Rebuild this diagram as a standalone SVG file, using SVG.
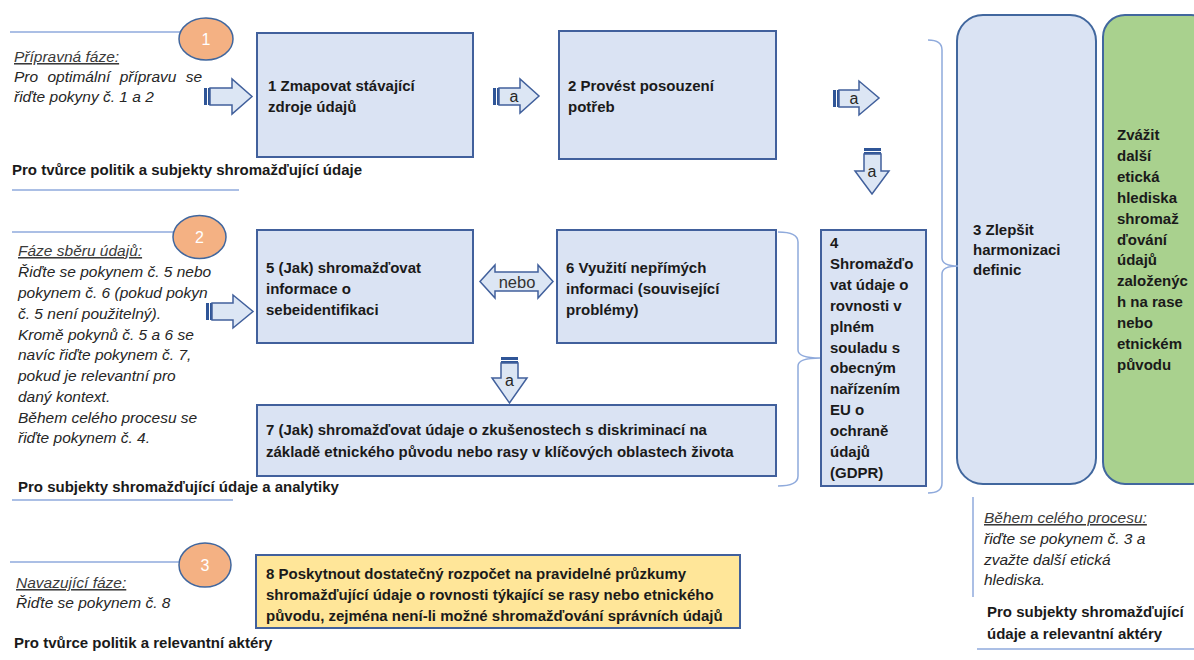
<svg xmlns="http://www.w3.org/2000/svg" width="1194" height="660" viewBox="0 0 1194 660">
<style>
  .box{fill:#dae3f3;stroke:#41609c;stroke-width:2}
  .rbox{fill:#dae3f3;stroke:#41679e;stroke-width:2}
  .gbox{fill:#a9d18e;stroke:#41679e;stroke-width:2}
  .ybox{fill:#ffe699;stroke:#41609c;stroke-width:2}
  .circ{fill:#f4b183;stroke:#41679e;stroke-width:1.5}
  .cnum{font-family:"Liberation Sans",Arial,sans-serif;font-size:16px;fill:#ffffff;text-anchor:middle}
  .b{font-family:"Liberation Sans",Arial,sans-serif;font-size:15px;font-weight:bold;fill:#1a1a1a}
  .it{font-family:"Liberation Sans",Arial,sans-serif;font-size:15.5px;font-style:italic;fill:#262626}
  .ith{font-family:"Liberation Sans",Arial,sans-serif;font-size:15.5px;font-style:italic;fill:#3a3a3a;text-decoration:underline}
  .lbl{font-family:"Liberation Sans",Arial,sans-serif;font-size:16px;fill:#262626;text-anchor:middle}
  .lbl2{font-family:"Liberation Sans",Arial,sans-serif;font-size:16.5px;fill:#333333;text-anchor:middle}
  .sep{stroke:#8faadc;stroke-width:1.5;fill:none}
  .arr{fill:#dce6f4;stroke:#41609c;stroke-width:1.5;stroke-linejoin:miter}
  .strp{fill:#2f5597}
  .brace{fill:none;stroke:#8faadc;stroke-width:1.5}
</style>

<!-- separator lines -->
<g id="separators">
  <line class="sep" x1="10" y1="32" x2="180" y2="32"/>
  <line class="sep" x1="12" y1="190" x2="239" y2="190"/>
  <line class="sep" x1="12" y1="232" x2="174" y2="232"/>
  <line class="sep" x1="12" y1="500" x2="233" y2="500"/>
  <line class="sep" x1="10" y1="562" x2="180" y2="562"/>
  <line class="sep" x1="977" y1="649" x2="1194" y2="649"/>
  <line class="sep" x1="973" y1="497" x2="973" y2="597"/>
</g>

<!-- phase 1 -->
<g id="circle1">
  <ellipse class="circ" cx="206" cy="39" rx="27" ry="21"/>
  <text class="cnum" x="206" y="45">1</text>
</g>
<g id="phase1-text">
  <text class="ith" x="14" y="62">Přípravná fáze:</text>
  <text class="it" x="14" y="82" word-spacing="5">Pro optimální přípravu se</text>
  <text class="it" x="14" y="102">řiďte pokyny č. 1 a 2</text>
  <text class="b" x="12" y="175">Pro tvůrce politik a subjekty shromažďující údaje</text>
</g>
<g id="node1">
  <rect class="box" x="257" y="33" width="216" height="124"/>
  <text class="b" x="268" y="91">1 Zmapovat stávající</text>
  <text class="b" x="268" y="112">zdroje údajů</text>
</g>
<g id="node2">
  <rect class="box" x="559" y="31" width="217" height="128"/>
  <text class="b" x="568" y="91">2 Provést posouzení</text>
  <text class="b" x="568" y="112">potřeb</text>
</g>

<!-- phase 2 -->
<g id="circle2">
  <ellipse class="circ" cx="199.5" cy="237" rx="26.5" ry="21.5"/>
  <text class="cnum" x="199.5" y="243">2</text>
</g>
<g id="phase2-text">
  <text class="ith" x="18" y="256">Fáze sběru údajů:</text>
  <text class="it" x="18" y="277">Řiďte se pokynem č. 5 nebo</text>
  <text class="it" x="18" y="298">pokynem č. 6 (pokud pokyn</text>
  <text class="it" x="18" y="318.5">č. 5 není použitelný).</text>
  <text class="it" x="18" y="339.5">Kromě pokynů č. 5 a 6 se</text>
  <text class="it" x="18" y="360">navíc řiďte pokynem č. 7,</text>
  <text class="it" x="18" y="381">pokud je relevantní pro</text>
  <text class="it" x="18" y="401.5">daný kontext.</text>
  <text class="it" x="18" y="422.5">Během celého procesu se</text>
  <text class="it" x="18" y="443">řiďte pokynem č. 4.</text>
  <text class="b" x="18" y="492">Pro subjekty shromažďující údaje a analytiky</text>
</g>
<g id="node5">
  <rect class="box" x="257" y="230" width="216" height="113"/>
  <text class="b" x="266" y="273">5 (Jak) shromažďovat</text>
  <text class="b" x="266" y="294">informace o</text>
  <text class="b" x="266" y="315">sebeidentifikaci</text>
</g>
<g id="node6">
  <rect class="box" x="557" y="230" width="219" height="113"/>
  <text class="b" x="566" y="273">6 Využití nepřímých</text>
  <text class="b" x="566" y="294">informaci (související</text>
  <text class="b" x="566" y="315">problémy)</text>
</g>
<g id="node7">
  <rect class="box" x="257" y="405" width="519" height="71"/>
  <text class="b" x="266" y="435">7 (Jak) shromažďovat údaje o zkušenostech s diskriminací na</text>
  <text class="b" x="266" y="457">základě etnického původu nebo rasy v klíčových oblastech života</text>
</g>
<g id="node4">
  <rect class="box" x="821" y="230" width="105" height="256"/>
  <text class="b" x="830" y="248">4</text>
  <text class="b" x="830" y="268.9">Shromažďo</text>
  <text class="b" x="830" y="289.8">vat údaje o</text>
  <text class="b" x="830" y="310.7">rovnosti v</text>
  <text class="b" x="830" y="331.6">plném</text>
  <text class="b" x="830" y="352.5">souladu s</text>
  <text class="b" x="830" y="373.4">obecným</text>
  <text class="b" x="830" y="394.3">nařízením</text>
  <text class="b" x="830" y="415.2">EU o</text>
  <text class="b" x="830" y="436.1">ochraně</text>
  <text class="b" x="830" y="457">údajů</text>
  <text class="b" x="830" y="477.9">(GDPR)</text>
</g>
<g id="node3">
  <rect class="rbox" x="957" y="15" width="139" height="469" rx="26" ry="26"/>
  <text class="b" x="973" y="235">3 Zlepšit</text>
  <text class="b" x="973" y="255">harmonizaci</text>
  <text class="b" x="973" y="275">definic</text>
</g>
<g id="node-ethics">
  <rect class="gbox" x="1103" y="15" width="110" height="469" rx="22" ry="22"/>
  <text class="b" x="1117" y="140">Zvážit</text>
  <text class="b" x="1117" y="160.9">další</text>
  <text class="b" x="1117" y="181.8">etická</text>
  <text class="b" x="1117" y="202.7">hlediska</text>
  <text class="b" x="1117" y="223.6">shromaž</text>
  <text class="b" x="1117" y="244.5">ďování</text>
  <text class="b" x="1117" y="265.4">údajů</text>
  <text class="b" x="1117" y="286.3">založenýc</text>
  <text class="b" x="1117" y="307.2">h na rase</text>
  <text class="b" x="1117" y="328.1">nebo</text>
  <text class="b" x="1117" y="349">etnickém</text>
  <text class="b" x="1117" y="369.9">původu</text>
</g>
<g id="process-text">
  <text class="ith" x="984" y="523">Během celého procesu:</text>
  <text class="it" x="984" y="544">řiďte se pokynem č. 3 a</text>
  <text class="it" x="984" y="564.5">zvažte další etická</text>
  <text class="it" x="984" y="585">hlediska.</text>
  <text class="b" x="987" y="617">Pro subjekty shromažďující</text>
  <text class="b" x="987" y="639">údaje a relevantní aktéry</text>
</g>

<!-- phase 3 -->
<g id="circle3">
  <ellipse class="circ" cx="205" cy="565" rx="26" ry="22"/>
  <text class="cnum" x="205" y="571">3</text>
</g>
<g id="phase3-text">
  <text class="ith" x="16" y="588">Navazující fáze:</text>
  <text class="it" x="16" y="608">Řiďte se pokynem č. 8</text>
  <text class="b" x="14" y="648">Pro tvůrce politik a relevantní aktéry</text>
</g>
<g id="node8">
  <rect class="ybox" x="256" y="555" width="484" height="73"/>
  <text class="b" x="266" y="579">8 Poskytnout dostatečný rozpočet na pravidelné průzkumy</text>
  <text class="b" x="266" y="600">shromažďující údaje o rovnosti týkající se rasy nebo etnického</text>
  <text class="b" x="266" y="621">původu, zejména není-li možné shromažďování správních údajů</text>
</g>

<!-- connectors -->
<g id="connectors">
  <!-- arrow into node 1 -->
  <rect class="strp" x="204" y="88" width="3" height="17"/>
  <rect class="strp" x="208" y="88" width="2" height="17"/>
  <polygon class="arr" points="210,88 232,88 232,79 252,96.5 232,114 232,105 210,105"/>
  <!-- a: 1 -> 2 -->
  <rect class="strp" x="493" y="88" width="3" height="17"/>
  <rect class="strp" x="497" y="88" width="2" height="17"/>
  <polygon class="arr" points="499,88 520,88 520,79 539,96 520,113 520,105 499,105"/>
  <text class="lbl" x="514" y="102">a</text>
  <!-- a: 2 -> right -->
  <rect class="strp" x="833" y="90" width="3" height="17"/>
  <rect class="strp" x="837" y="90" width="2" height="17"/>
  <polygon class="arr" points="839,90 859,90 859,81 879,98 859,115 859,107 839,107"/>
  <text class="lbl" x="854" y="104">a</text>
  <!-- a: down to node 4 -->
  <rect class="strp" x="864" y="148" width="17" height="3"/>
  <rect class="strp" x="864" y="152" width="17" height="2"/>
  <polygon class="arr" points="864,154 881,154 881,171 889,171 872,194 855,171 864,171"/>
  <text class="lbl" x="872" y="177">a</text>
  <!-- arrow into node 5 -->
  <rect class="strp" x="206" y="303" width="3" height="17"/>
  <rect class="strp" x="210" y="303" width="2" height="17"/>
  <polygon class="arr" points="212,303 233,303 233,295 253,311.5 233,328 233,320 212,320"/>
  <!-- nebo: 5 <-> 6 -->
  <polygon class="arr" points="480,281.5 495,265 495,272 538,272 538,265 553,281.5 538,298 538,291 495,291 495,298"/>
  <text class="lbl2" x="517" y="287.5">nebo</text>
  <!-- a: down to node 7 -->
  <rect class="strp" x="501" y="357" width="17" height="3"/>
  <rect class="strp" x="501" y="361" width="17" height="2"/>
  <polygon class="arr" points="501,363 518,363 518,378 527,378 509.5,403 492,378 501,378"/>
  <text class="lbl" x="509.5" y="386">a</text>
  <!-- braces -->
  <path class="brace" d="M778,232 Q798,232 798,242 L798,350 Q798,358 820,358 Q798,358 798,366 L798,476 Q798,486 778,486"/>
  <path class="brace" d="M928,40 Q942,40 942,50 L942,258 Q942,266 958,266 Q942,266 942,274 L942,483 Q942,493 928,493"/>
</g>
</svg>
